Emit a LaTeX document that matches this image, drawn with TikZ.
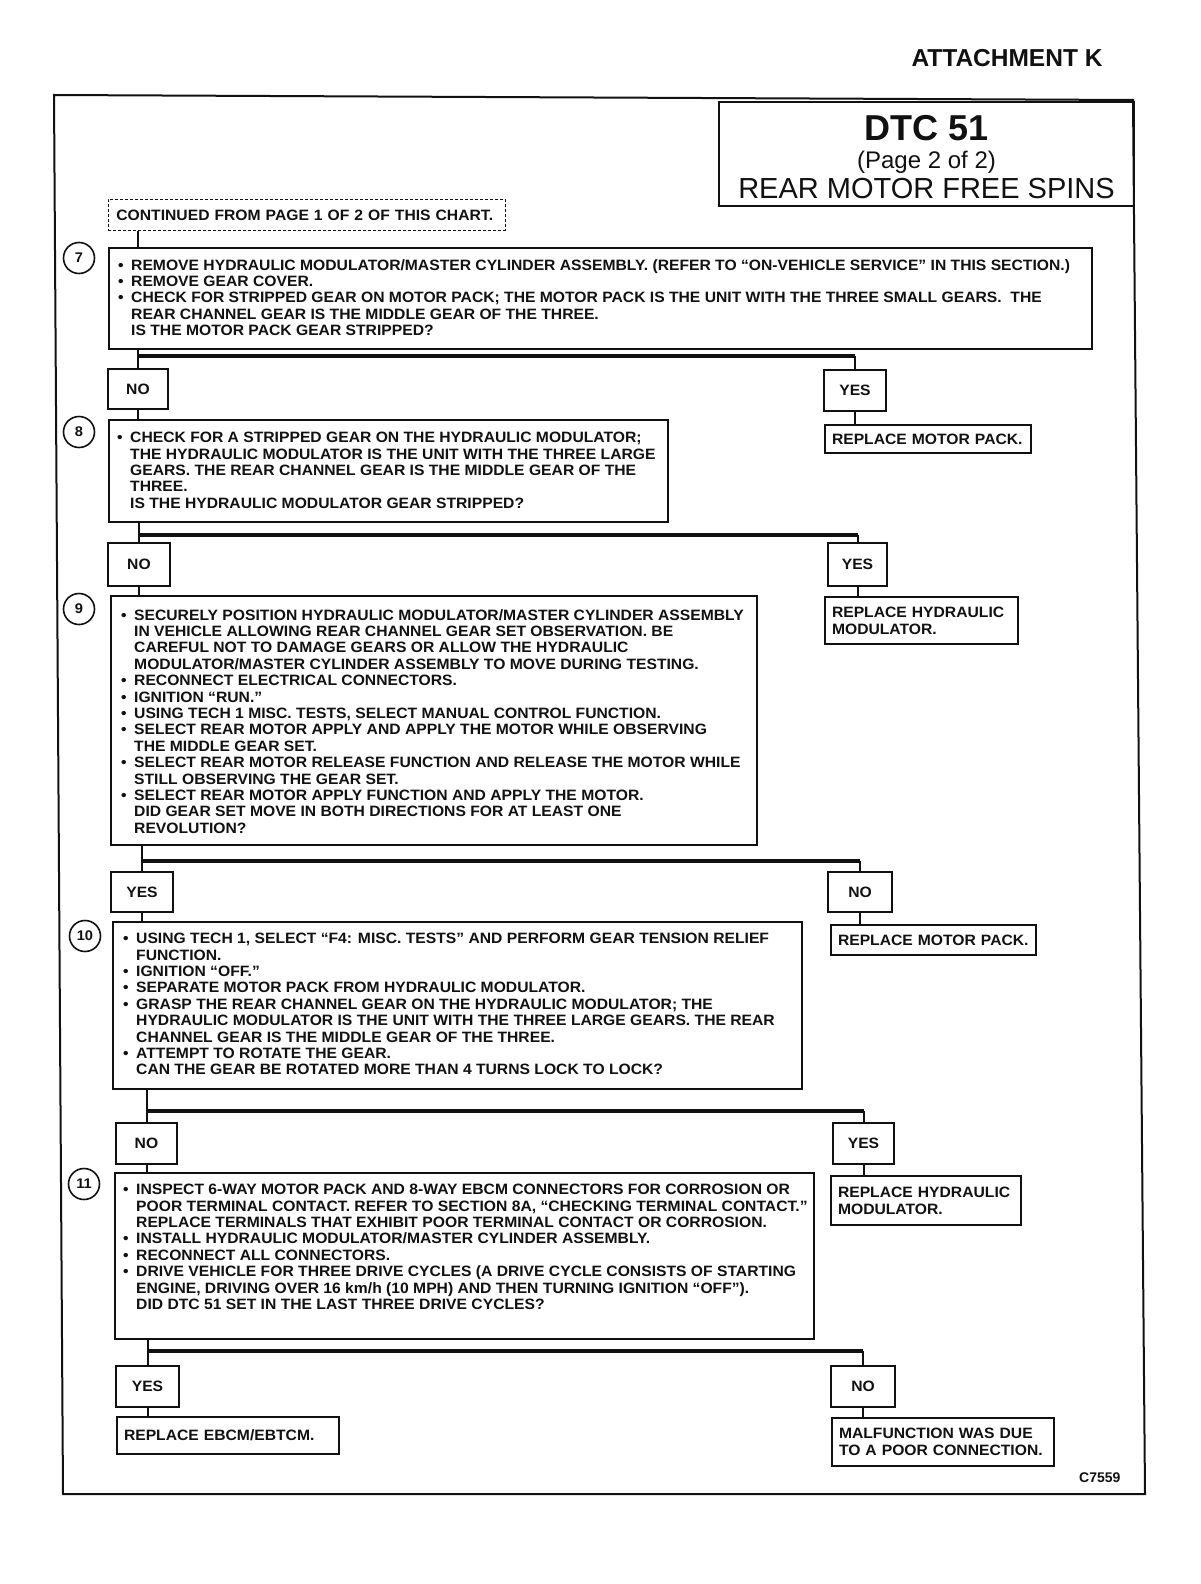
\documentclass[tikz,border=0pt]{standalone}
\usepackage{fontspec}
\setmainfont{Liberation Sans}
\newfontfamily\chartfont[Ligatures=TeX, FakeStretch=1.045]{Liberation Sans}
\usepackage{xcolor}
\usetikzlibrary{positioning}
\definecolor{inkc}{HTML}{111111}
\definecolor{paperc}{HTML}{FFFFFF}

\newcommand{\bitem}{\makebox[13pt][l]{\textbullet}}
\newcommand{\bcont}{\hspace*{13pt}}

\begin{document}
\begin{tikzpicture}[x=1pt,y=-1pt,
    every node/.style={text=inkc},
    stepbox/.style={draw=inkc, line width=2pt, inner sep=0pt, anchor=north west},
    steptext/.style={anchor=north west, inner sep=0pt, align=left,
      font=\chartfont\fontsize{15}{16.4}\selectfont\bfseries},
    stepnum/.style={draw=inkc, circle, line width=1.6pt, minimum size=31pt,
      inner sep=0pt, font=\chartfont\fontsize{14}{14}\selectfont\bfseries},
    ansbox/.style={draw=inkc, line width=2pt, inner sep=0pt,
      font=\chartfont\fontsize{15}{16}\selectfont\bfseries},
    resbox/.style={draw=inkc, line width=2pt, anchor=north west, align=left,
      inner xsep=7pt, inner ysep=0pt,
      font=\chartfont\fontsize{15}{17}\selectfont\bfseries},
    link/.style={draw=inkc, line width=2pt},
    bar/.style={draw=inkc, line width=3.8pt}]
  \useasboundingbox (0,0) rectangle (1200,1584);
  \fill[paperc] (0,0) rectangle (1200,1584);

  % ============================================================
  %                       HEADER
  % ============================================================
  \node[anchor=base east, font=\fontsize{24.5}{24.5}\selectfont\bfseries] (attach) at (1106,67) {ATTACHMENT K};
  \draw[inkc, line width=2pt] (54,95) -- (1133,100) -- (1145,1494) -- (63,1494) -- cycle;

  \node[draw=inkc, line width=2pt, anchor=north west, minimum width=415pt, minimum height=104pt] (title) at (718,101) {};
  \node[anchor=base, font=\fontsize{36}{36}\selectfont\bfseries] (dtc) at ([yshift=-40pt]title.north) {DTC 51};
  \node[anchor=base, font=\fontsize{24}{24}\selectfont] (page) at ([yshift=-67pt]title.north) {(Page 2 of 2)};
  \node[anchor=base, font=\fontsize{29}{29}\selectfont] (what) at ([yshift=-97pt]title.north) {REAR MOTOR FREE SPINS};

  \node[draw=inkc, line width=0.8pt, densely dashed, anchor=north west, align=left,
    text width=381pt, minimum height=31pt, inner xsep=8pt, inner ysep=0pt,
    font=\chartfont\fontsize{15}{16}\selectfont\bfseries] (cont) at (108,199) {CONTINUED FROM PAGE 1 OF 2 OF THIS CHART.};

  % ============================================================
  %                       STEP BOXES
  % ============================================================
  \node[stepbox, minimum width=983pt, minimum height=101pt] (s7) at (108,247) {};
  \node[stepnum] (n7) at (79,258) {7};
  \node[steptext] (t7) at ([xshift=10pt,yshift=-12pt]s7.north west) {%
    \bitem REMOVE HYDRAULIC MODULATOR/MASTER CYLINDER ASSEMBLY. (REFER TO ``ON-VEHICLE SERVICE'' IN THIS SECTION.)\\
    \bitem REMOVE GEAR COVER.\\
    \bitem CHECK FOR STRIPPED GEAR ON MOTOR PACK; THE MOTOR PACK IS THE UNIT WITH THE THREE SMALL GEARS.\ \ THE\\
    \bcont REAR CHANNEL GEAR IS THE MIDDLE GEAR OF THE THREE.\\
    \bcont IS THE MOTOR PACK GEAR STRIPPED?};

  \node[stepbox, minimum width=559pt, minimum height=102pt] (s8) at (108,419) {};
  \node[stepnum] (n8) at (79,432) {8};
  \node[steptext] (t8) at ([xshift=9pt,yshift=-13pt]s8.north west) {%
    \bitem CHECK FOR A STRIPPED GEAR ON THE HYDRAULIC MODULATOR;\\
    \bcont THE HYDRAULIC MODULATOR IS THE UNIT WITH THE THREE LARGE\\
    \bcont GEARS. THE REAR CHANNEL GEAR IS THE MIDDLE GEAR OF THE\\
    \bcont THREE.\\
    \bcont IS THE HYDRAULIC MODULATOR GEAR STRIPPED?};

  \node[stepbox, minimum width=646pt, minimum height=249pt] (s9) at (110,595) {};
  \node[stepnum] (n9) at (79,609) {9};
  \node[steptext] (t9) at ([xshift=11pt,yshift=-14pt]s9.north west) {%
    \bitem SECURELY POSITION HYDRAULIC MODULATOR/MASTER CYLINDER ASSEMBLY\\
    \bcont IN VEHICLE ALLOWING REAR CHANNEL GEAR SET OBSERVATION. BE\\
    \bcont CAREFUL NOT TO DAMAGE GEARS OR ALLOW THE HYDRAULIC\\
    \bcont MODULATOR/MASTER CYLINDER ASSEMBLY TO MOVE DURING TESTING.\\
    \bitem RECONNECT ELECTRICAL CONNECTORS.\\
    \bitem IGNITION ``RUN.''\\
    \bitem USING TECH 1 MISC. TESTS, SELECT MANUAL CONTROL FUNCTION.\\
    \bitem SELECT REAR MOTOR APPLY AND APPLY THE MOTOR WHILE OBSERVING\\
    \bcont THE MIDDLE GEAR SET.\\
    \bitem SELECT REAR MOTOR RELEASE FUNCTION AND RELEASE THE MOTOR WHILE\\
    \bcont STILL OBSERVING THE GEAR SET.\\
    \bitem SELECT REAR MOTOR APPLY FUNCTION AND APPLY THE MOTOR.\\
    \bcont DID GEAR SET MOVE IN BOTH DIRECTIONS FOR AT LEAST ONE\\
    \bcont REVOLUTION?};

  \node[stepbox, minimum width=689pt, minimum height=167pt] (s10) at (112,921) {};
  \node[stepnum] (n10) at (85,936) {10};
  \node[steptext] (t10) at ([xshift=11pt,yshift=-12pt]s10.north west) {%
    \bitem USING TECH 1, SELECT ``F4: MISC. TESTS'' AND PERFORM GEAR TENSION RELIEF\\
    \bcont FUNCTION.\\
    \bitem IGNITION ``OFF.''\\
    \bitem SEPARATE MOTOR PACK FROM HYDRAULIC MODULATOR.\\
    \bitem GRASP THE REAR CHANNEL GEAR ON THE HYDRAULIC MODULATOR; THE\\
    \bcont HYDRAULIC MODULATOR IS THE UNIT WITH THE THREE LARGE GEARS. THE REAR\\
    \bcont CHANNEL GEAR IS THE MIDDLE GEAR OF THE THREE.\\
    \bitem ATTEMPT TO ROTATE THE GEAR.\\
    \bcont CAN THE GEAR BE ROTATED MORE THAN 4 TURNS LOCK TO LOCK?};

  \node[stepbox, minimum width=699pt, minimum height=166pt] (s11) at (114,1172) {};
  \node[stepnum] (n11) at (84,1184) {11};
  \node[steptext] (t11) at ([xshift=9pt,yshift=-12pt]s11.north west) {%
    \bitem INSPECT 6-WAY MOTOR PACK AND 8-WAY EBCM CONNECTORS FOR CORROSION OR\\
    \bcont POOR TERMINAL CONTACT. REFER TO SECTION 8A, ``CHECKING TERMINAL CONTACT.''\\
    \bcont REPLACE TERMINALS THAT EXHIBIT POOR TERMINAL CONTACT OR CORROSION.\\
    \bitem INSTALL HYDRAULIC MODULATOR/MASTER CYLINDER ASSEMBLY.\\
    \bitem RECONNECT ALL CONNECTORS.\\
    \bitem DRIVE VEHICLE FOR THREE DRIVE CYCLES (A DRIVE CYCLE CONSISTS OF STARTING\\
    \bcont ENGINE, DRIVING OVER 16 km/h (10 MPH) AND THEN TURNING IGNITION ``OFF'').\\
    \bcont DID DTC 51 SET IN THE LAST THREE DRIVE CYCLES?};

  % ============================================================
  %                       ANSWERS
  % ============================================================
  \node[ansbox, minimum width=60pt, minimum height=40pt] (no7) at (138,389) {NO};
  \node[ansbox, minimum width=62pt, minimum height=41pt] (yes7) at (855,390.5) {YES};
  \node[ansbox, minimum width=62pt, minimum height=43pt] (no8) at (139,564.5) {NO};
  \node[ansbox, minimum width=59pt, minimum height=43pt] (yes8) at (857.5,564.5) {YES};
  \node[ansbox, minimum width=62pt, minimum height=40pt] (yes9) at (142,892) {YES};
  \node[ansbox, minimum width=64pt, minimum height=40pt] (no9) at (860,892) {NO};
  \node[ansbox, minimum width=61pt, minimum height=41pt] (no10) at (146.5,1143.5) {NO};
  \node[ansbox, minimum width=61pt, minimum height=41pt] (yes10) at (863.5,1143.5) {YES};
  \node[ansbox, minimum width=63pt, minimum height=41pt] (yes11) at (147.5,1386.5) {YES};
  \node[ansbox, minimum width=64pt, minimum height=41pt] (no11) at (863,1386.5) {NO};

  % ============================================================
  %                       RESULTS
  % ============================================================
  \node[resbox, text width=192pt, minimum height=28pt] (rep7) at (824,424) {REPLACE MOTOR PACK.};
  \node[resbox, text width=179pt, minimum height=47pt] (rep8) at (824,596) {REPLACE HYDRAULIC\\MODULATOR.};
  \node[resbox, text width=191pt, minimum height=30pt] (rep9) at (830,924) {REPLACE MOTOR PACK.};
  \node[resbox, text width=176pt, minimum height=49pt] (rep10) at (830,1175) {REPLACE HYDRAULIC\\MODULATOR.};
  \node[resbox, text width=208pt, minimum height=37pt] (rep11a) at (116,1416) {REPLACE EBCM/EBTCM.};
  \node[resbox, text width=208pt, minimum height=48pt] (rep11b) at (831,1417) {MALFUNCTION WAS DUE\\TO A POOR CONNECTION.};

  \node[anchor=base east, font=\fontsize{14}{14}\selectfont\bfseries] (fig) at (1124,1482) {C7559};

  % ============================================================
  %                       CONNECTORS
  % ============================================================
  \draw[link] (cont.south -| no7) -- (s7.north -| no7);

  % branch bars under each question
  \foreach \s/\l/\r/\yy in {s7/no7/yes7/356, s8/no8/yes8/535, s9/yes9/no9/861,
                            s10/no10/yes10/1111, s11/yes11/no11/1351} {
    \coordinate (b\s) at (0,\yy);
    \draw[link] (\s.south -| \l) -- (\l.north);
    \draw[bar] (\l |- b\s) -- (\r |- b\s);
    \draw[link] (\r |- b\s) -- (\r.north);
  }

  % answers down to the next step
  \foreach \a/\b in {no7/s8, no8/s9, yes9/s10, no10/s11}
    \draw[link] (\a.south) -- (\a.south |- \b.north);

  % answers down to the results
  \foreach \a/\b in {yes7/rep7, yes8/rep8, no9/rep9, yes10/rep10, yes11/rep11a, no11/rep11b}
    \draw[link] (\a.south) -- (\a.south |- \b.north);

\end{tikzpicture}
\end{document}
